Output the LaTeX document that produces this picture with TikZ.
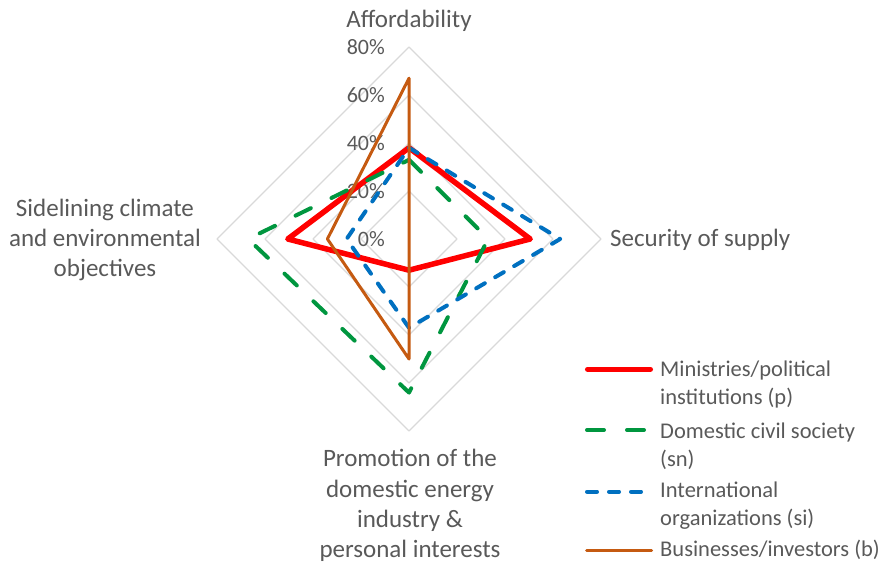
\documentclass[tikz,border=0pt]{standalone}
\usepackage{fontspec}
\setmainfont{Carlito}
\definecolor{txtgray}{HTML}{595959}
\definecolor{ringgray}{HTML}{D9D9D9}
\definecolor{pred}{HTML}{FF0000}
\definecolor{sngreen}{HTML}{00963F}
\definecolor{siblue}{HTML}{0070C0}
\definecolor{borange}{HTML}{C55A11}
\tikzset{
  ring/.style={draw=ringgray,line width=1.3pt},
  ministries/.style={draw=pred,line width=5.5pt},
  civil/.style={draw=sngreen,line width=4pt,line cap=round,dash pattern=on 17pt off 23pt},
  intl/.style={draw=siblue,line width=4pt,line cap=round,dash pattern=on 10pt off 12pt},
  business/.style={draw=borange,line width=3pt},
  axislabel/.style={font=\fontsize{25}{30.4}\selectfont,text=txtgray,inner sep=0pt,align=center},
  ticklabel/.style={font=\fontsize{22}{26}\selectfont,text=txtgray,inner sep=0pt,anchor=east},
  legendlabel/.style={font=\fontsize{22.5}{28.3}\selectfont,text=txtgray,inner sep=0pt,align=left,anchor=base west}
}
\begin{document}
\begin{tikzpicture}[x=1pt,y=1pt,line join=round]
    \useasboundingbox (0,0) rectangle (882,564);
    \begin{scope}[shift={(409,325)}]
    % rings 20% .. 80%
    \draw[ring]
    \foreach \r in {48,96,144,192}
    {(0:\r) -- (90:\r) -- (180:\r) -- (270:\r) -- cycle};
    \foreach \k/\v in {0/0,1/20,2/40,3/60,4/80}
    \node[ticklabel] (t\k) at (-24,48*\k) {\v\%};
    % series points: top, right, bottom, left (in %)
    \path
    \foreach \s/\a/\b/\c/\d in {p/38/50.5/13/50.5, sn/33/33/64/67, si/38/63/37/26, b/67/0/50/34}
    {coordinate (\s1) at (90:2.4*\a) coordinate (\s2) at (0:2.4*\b)
     coordinate (\s3) at (270:2.4*\c) coordinate (\s4) at (180:2.4*\d)};
    \draw[ministries] (p1) -- (p2) -- (p3) -- (p4) -- cycle;
    \draw[civil] (sn1) -- (sn2) -- (sn3) -- (sn4) -- cycle;
    \draw[intl] (si1) -- (si2) -- (si3) -- (si4) -- cycle;
    \draw[business] (b1) -- (b2) -- (b3) -- (b4) -- cycle;
    \end{scope}
    % axis labels (base = last line)
    \node[axislabel,anchor=base] (afford) at (409,536) {Affordability};
    \node[axislabel,anchor=base west] (secur) at (610,317.3) {Security of supply};
    \node[axislabel,anchor=base] (promo) at (410,6) {Promotion of the\\domestic energy\\industry \&\\personal interests};
    \node[axislabel,anchor=base] (sidel) at (105,287) {Sidelining climate\\and environmental\\objectives};
    % legend
    \node[legendlabel] (lp) at (660,159) {Ministries/political\\institutions (p)};
    \node[legendlabel] (lsn) at (660,97.3) {Domestic civil society\\(sn)};
    \node[legendlabel] (lsi) at (660,38) {International\\organizations (si)};
    \node[legendlabel] (lb) at (660,7.3) {Businesses/investors (b)};
    \draw[ministries,line cap=round] ([shift={(-72.3,35.7)}]lp.base west) -- ++(62.6,0);
    \draw[civil] ([shift={(-73,36.7)}]lsn.base west) -- ++(61,0);
    \draw[intl] ([shift={(-73,34.3)}]lsi.base west) -- ++(62,0);
    \draw[business,line cap=round] ([shift={(-73.5,6)}]lb.base west) -- ++(65,0);
\end{tikzpicture}
\end{document}
